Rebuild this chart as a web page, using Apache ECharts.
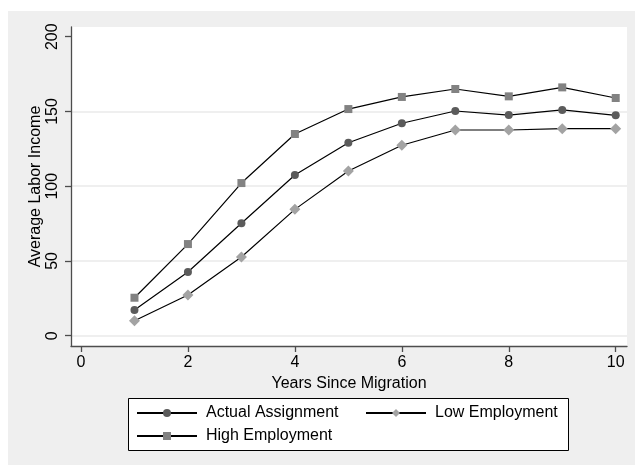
<!DOCTYPE html>
<html>
<head>
<meta charset="utf-8">
<script src="https://cdn.jsdelivr.net/npm/echarts@6/dist/echarts.min.js"></script>
<style>
  html, body { margin: 0; padding: 0; background: #ffffff; }
  #chart { width: 635px; height: 465px; }
</style>
</head>
<body>
<div id="chart"></div>
<script>
// Years since migration (x positions of the points)
const years = [1, 2, 3, 4, 5, 6, 7, 8, 9, 10];

// Average labor income by scenario
const actualAssignment = [17.2, 42.6, 75.2, 107.5, 129.1, 142.1, 150.3, 147.6, 151.0, 147.4];
const lowEmployment    = [10.0, 27.2, 52.6, 84.5, 110.2, 127.4, 137.6, 137.6, 138.5, 138.5];
const highEmployment   = [25.4, 61.3, 102.1, 134.9, 151.6, 159.7, 165.0, 160.1, 166.1, 159.0];

// Axis ticks
const xTicks = [0, 2, 4, 6, 8, 10];
const yTicks = [0, 50, 100, 150, 200];
const yGridLines = [0, 50, 100, 150];

const FONT = '"Liberation Sans", Arial, sans-serif';
const AXIS_COLOR = '#4d4d4d';

const pairs = (ys) => years.map((x, i) => [x, ys[i]]);

const chart = echarts.init(document.getElementById('chart'), null, { renderer: 'canvas' });

const lineSeries = (name, values, symbol, size, color) => ({
  name: name,
  type: 'line',
  xAxisIndex: 0,
  yAxisIndex: 0,
  data: pairs(values),
  symbol: symbol,
  symbolSize: size,
  showSymbol: true,
  lineStyle: { color: '#000000', width: 1.2 },
  itemStyle: { color: color, borderWidth: 0 },
  emphasis: { disabled: true },
  animation: false,
  z: 3
});

chart.setOption({
  animation: false,
  backgroundColor: '#ffffff',
  textStyle: { fontFamily: FONT },
  graphic: [
    {
      type: 'rect',
      shape: { x: 8, y: 11, width: 627, height: 454 },
      style: { fill: '#efefef' },
      z: -10,
      silent: true
    },
    {
      type: 'rect',
      shape: { x: 71, y: 27, width: 556, height: 319 },
      style: { fill: '#ffffff' },
      z: -9,
      silent: true
    },
    {
      type: 'rect',
      shape: { x: 128.5, y: 398.5, width: 440, height: 52 },
      style: { fill: '#ffffff', stroke: '#000000', lineWidth: 1 },
      z: -8,
      silent: true
    }
  ],
  grid: {
    left: 71,
    top: 27,
    width: 556,
    height: 319,
    containLabel: false,
    outerBoundsMode: 'none'
  },
  xAxis: {
    type: 'value',
    min: -0.187,
    max: 10.211,
    name: 'Years Since Migration',
    nameLocation: 'middle',
    nameGap: 26,
    nameTextStyle: { fontFamily: FONT, fontSize: 16, color: '#000000', lineHeight: 16 },
    axisLine: { show: true, onZero: false, lineStyle: { color: AXIS_COLOR, width: 1.3 } },
    axisTick: { show: true, length: 6, customValues: xTicks, lineStyle: { color: AXIS_COLOR, width: 1.3 } },
    axisLabel: {
      customValues: xTicks,
      margin: 9,
      fontFamily: FONT,
      fontSize: 16,
      color: '#000000',
      lineHeight: 16
    },
    splitLine: { show: false }
  },
  yAxis: [
    {
      type: 'value',
      min: -6.89,
      max: 206.49,
      name: 'Average Labor Income',
      nameLocation: 'middle',
      nameRotate: 90,
      nameGap: 27,
      nameMoveOverlap: false,
      nameTextStyle: { fontFamily: FONT, fontSize: 16, color: '#000000', lineHeight: 16 },
      axisLine: { show: true, onZero: false, lineStyle: { color: AXIS_COLOR, width: 1.3 } },
      axisTick: { show: true, length: 6, customValues: yTicks, lineStyle: { color: AXIS_COLOR, width: 1.3 } },
      axisLabel: {
        customValues: yTicks,
        rotate: 90,
        margin: 10,
        fontFamily: FONT,
        fontSize: 16,
        color: '#000000',
        lineHeight: 16
      },
      splitLine: { show: false }
    },
    {
      // carries only the horizontal grid lines
      type: 'value',
      min: -6.89,
      max: 206.49,
      position: 'left',
      axisLine: { show: false },
      axisTick: { show: false, customValues: yGridLines },
      axisLabel: { show: false },
      splitLine: { show: true, lineStyle: { color: '#eaeaea', width: 1.5 } }
    }
  ],
  legend: {
    show: true,
    left: 136,
    top: 405,
    orient: 'horizontal',
    width: 460,
    padding: 0,
    itemGap: 7,
    itemWidth: 60,
    itemHeight: 10,
    selectedMode: false,
    textStyle: {
      fontFamily: FONT,
      fontSize: 16,
      color: '#000000',
      lineHeight: 16,
      width: 152,
      padding: [0, 0, 0, 4]
    },
    data: ['Actual Assignment', 'Low Employment', 'High Employment']
  },
  series: [
    lineSeries('Actual Assignment', actualAssignment, 'circle', 8, '#5b5b5b'),
    lineSeries('Low Employment', lowEmployment, 'diamond', 11, '#a3a3a3'),
    lineSeries('High Employment', highEmployment, 'rect', 8, '#828282')
  ]
});
</script>
</body>
</html>
